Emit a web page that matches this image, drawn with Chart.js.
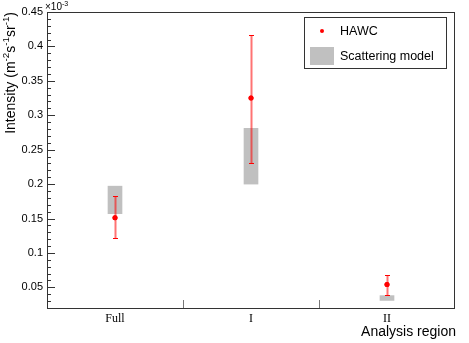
<!DOCTYPE html>
<html>
<head>
<meta charset="utf-8">
<script src="https://cdn.jsdelivr.net/npm/chart.js@4/dist/chart.umd.min.js"></script>
<style>
  body { margin: 0; background: #fff; }
  #wrap { position: relative; width: 469px; height: 343px; }
</style>
</head>
<body>
<div id="wrap"><canvas id="chart"></canvas></div>
<script>
// values in units of 1e-3 m^-2 s^-1 sr^-1
const categories = ["Full", "I", "II"];
const hawcValues = [0.151, 0.325, 0.054];
const hawcLow = [0.121, 0.231, 0.039];
const hawcHigh = [0.182, 0.417, 0.068];
const modelLow = [0.157, 0.200, 0.031];
const modelHigh = [0.197, 0.281, 0.038];
const yMin = 0.02;
const yMax = 0.45;

const sansFont = "'Liberation Sans', Arial, sans-serif";
const serifFont = "'Liberation Serif', 'Times New Roman', serif";

// draw text with superscript parts: [[text, isSup], ...]
function richWidth(ctx, parts, size) {
  let w = 0;
  parts.forEach(p => {
    ctx.font = (p[1] ? size * 0.7 : size) + "px " + sansFont;
    w += ctx.measureText(p[0]).width;
  });
  return w;
}
function drawRich(ctx, parts, x, y, size) {
  let cx = x;
  ctx.textBaseline = "alphabetic";
  ctx.textAlign = "left";
  parts.forEach(p => {
    ctx.font = (p[1] ? size * 0.7 : size) + "px " + sansFont;
    ctx.fillText(p[0], cx, p[1] ? y - size * 0.42 : y);
    cx += ctx.measureText(p[0]).width;
  });
}

const rootStyle = {
  id: "rootStyle",
  afterDatasetsDraw(chart) {
    // error bars for HAWC points, then the points again on top
    const ctx = chart.ctx;
    const y = chart.scales.y;
    const meta = chart.getDatasetMeta(1);
    ctx.save();
    meta.data.forEach((pt, i) => {
      const x = Math.round(pt.x);
      const top = Math.round(y.getPixelForValue(hawcHigh[i]));
      const bot = Math.round(y.getPixelForValue(hawcLow[i]));
      ctx.fillStyle = "rgba(255,0,0,0.55)";
      ctx.fillRect(x - 0.5, top, 2, bot - top);
      ctx.fillStyle = "#ff0000";
      ctx.fillRect(x - 2, top, 5, 1);
      ctx.fillRect(x - 2, bot, 5, 1);
    });
    ctx.restore();
    meta.data.forEach(pt => pt.draw(ctx, chart.chartArea));
  },
  afterDraw(chart) {
    const ctx = chart.ctx;
    const a = chart.chartArea;
    const y = chart.scales.y;
    const xs = chart.scales.x;
    ctx.save();
    // frame
    ctx.strokeStyle = "#333";
    ctx.lineWidth = 1;
    ctx.strokeRect(Math.round(a.left) + 0.5, Math.round(a.top) + 0.5,
      Math.round(a.right - a.left) - 1, Math.round(a.bottom - a.top));
    // y ticks inward
    ctx.beginPath();
    y.ticks.forEach(t => {
      const py = Math.round(y.getPixelForValue(t.value)) + 0.5;
      const major = Math.abs(t.value * 20 - Math.round(t.value * 20)) < 1e-6;
      ctx.moveTo(a.left, py);
      ctx.lineTo(a.left + (major ? 8 : 4), py);
    });
    ctx.stroke();
    // x ticks at category boundaries
    ctx.strokeStyle = "#777";
    ctx.beginPath();
    for (let i = 1; i < categories.length; i++) {
      const px = Math.round((xs.getPixelForTick(i - 1) + xs.getPixelForTick(i)) / 2) + 0.5;
      ctx.moveTo(px, a.bottom);
      ctx.lineTo(px, a.bottom - 8);
    }
    ctx.stroke();

    ctx.fillStyle = "#000";
    // exponent label
    drawRich(ctx, [["\u00d710", false], ["-3", true]], a.left - 2, 10, 10);
    // y axis title, rotated, aligned to top
    const yParts = [["Intensity (m", false], ["-2", true], ["s", false], ["-1", true],
      ["sr", false], ["-1", true], [")", false]];
    const w = richWidth(ctx, yParts, 14);
    ctx.save();
    ctx.translate(15, a.top);
    ctx.rotate(-Math.PI / 2);
    drawRich(ctx, yParts, -w, 0, 14);
    ctx.restore();
    // x axis title, right aligned
    ctx.font = "14px " + sansFont;
    ctx.textAlign = "right";
    ctx.textBaseline = "alphabetic";
    ctx.fillText("Analysis region", a.right + 1, 336);

    // legend
    const lx = 304, ly = 17, lw = 142, lh = 51;
    ctx.fillStyle = "#fff";
    ctx.fillRect(lx, ly, lw, lh);
    ctx.strokeStyle = "#333";
    ctx.strokeRect(lx + 0.5, ly + 0.5, lw, lh);
    ctx.fillStyle = chart.data.datasets[1].pointBackgroundColor;
    ctx.beginPath();
    ctx.arc(322, 31, 2, 0, Math.PI * 2);
    ctx.fill();
    ctx.fillStyle = chart.data.datasets[0].backgroundColor;
    ctx.fillRect(310, 47, 24, 18);
    ctx.fillStyle = "#000";
    ctx.font = "12.5px " + sansFont;
    ctx.textAlign = "left";
    ctx.textBaseline = "middle";
    ctx.fillText(chart.data.datasets[1].label, 340, 32);
    ctx.fillText(chart.data.datasets[0].label, 340, 57);
    ctx.restore();
  }
};

new Chart(document.getElementById("chart"), {
  type: "bar",
  data: {
    labels: categories,
    datasets: [
      {
        label: "Scattering model",
        data: modelLow.map((lo, i) => [lo, modelHigh[i]]),
        backgroundColor: "#c0c0c0",
        borderWidth: 0,
        barThickness: 14,
        order: 2
      },
      {
        type: "line",
        label: "HAWC",
        data: hawcValues,
        showLine: false,
        pointStyle: "circle",
        pointRadius: 2.5,
        pointBackgroundColor: "#ff0000",
        pointBorderColor: "#ff0000",
        pointBorderWidth: 0,
        order: 1
      }
    ]
  },
  options: {
    responsive: true,
    maintainAspectRatio: false,
    animation: false,
    layout: { padding: { top: 12, right: 14, left: 0, bottom: 0 } },
    plugins: { legend: { display: false }, tooltip: { enabled: false } },
    scales: {
      x: {
        type: "category",
        offset: true,
        grid: { display: false, drawTicks: false },
        border: { display: false },
        ticks: { color: "#000", font: { family: serifFont, size: 12 }, padding: 4 },
        afterFit(s) { s.height = 35; }
      },
      y: {
        min: yMin,
        max: yMax,
        grid: { display: false, drawTicks: false },
        border: { display: false },
        afterBuildTicks(s) {
          const t = [];
          for (let k = Math.ceil(yMin * 100); k <= Math.round(yMax * 100); k++) t.push({ value: k / 100 });
          s.ticks = t;
        },
        ticks: {
          color: "#000",
          font: { family: sansFont, size: 11 },
          padding: 4,
          autoSkip: false,
          callback(v) {
            const m = Math.round(v * 100);
            return m % 5 === 0 ? String(m / 100) : "";
          }
        },
        afterFit(s) { s.width = 47; }
      }
    }
  },
  plugins: [rootStyle]
});
</script>
</body>
</html>
